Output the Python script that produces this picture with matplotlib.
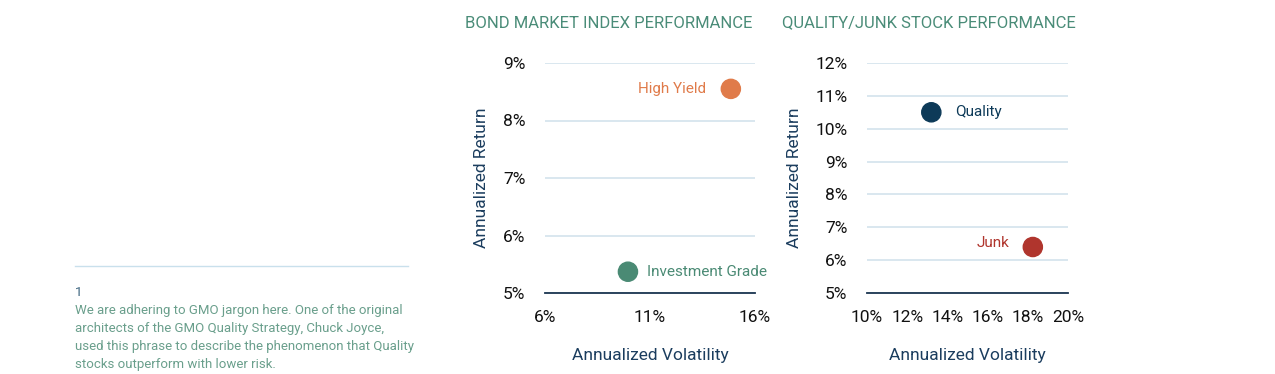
import matplotlib.pyplot as plt
from matplotlib.ticker import FuncFormatter

# bond market index performance
bond_names = ["High Yield", "Investment Grade"]
bond_vol = [14.85, 9.95]
bond_ret = [8.55, 5.37]
bond_colours = ["#e07b4a", "#4a8a74"]

# quality / junk stock performance
stock_names = ["Quality", "Junk"]
stock_vol = [13.2, 18.25]
stock_ret = [10.5, 6.4]
stock_colours = ["#0d3a58", "#b0352d"]

footnote = ("We are adhering to GMO jargon here. One of the original\n"
            "architects of the GMO Quality Strategy, Chuck Joyce,\n"
            "used this phrase to describe the phenomenon that Quality\n"
            "stocks outperform with lower risk.")

W, H = 1275, 374
TITLE_COL = "#4a8c78"
LABEL_COL = "#1b3d5e"
GRID_COL = "#d3e3ec"

plt.rcParams['font.family'] = ['Roboto', 'DejaVu Sans']

fig = plt.figure(figsize=(W / 100, H / 100), dpi=100)


def px_axes(left, top, right, bottom):
    return fig.add_axes([left / W, 1 - bottom / H, (right - left) / W, (bottom - top) / H])


def style_axes(ax, xticks, yticks):
    ax.set_xlim(xticks[0], xticks[-1])
    ax.set_ylim(yticks[0], yticks[-1])
    ax.set_xticks(xticks)
    ax.set_yticks(yticks)
    pct = FuncFormatter(lambda v, p: "%d%%" % v)
    ax.xaxis.set_major_formatter(pct)
    ax.yaxis.set_major_formatter(pct)
    for s in ["top", "right", "left"]:
        ax.spines[s].set_visible(False)
    ax.spines["bottom"].set_color("#1b3550")
    ax.spines["bottom"].set_linewidth(1.3)
    ax.tick_params(length=0, labelsize=12.5, colors="#111111")
    ax.tick_params(axis="x", pad=12)
    ax.tick_params(axis="y", pad=14)
    ax.grid(axis="y", color=GRID_COL, linewidth=1.2)
    ax.set_axisbelow(True)
    ax.set_xlabel("Annualized Volatility", fontsize=12.5, color=LABEL_COL, labelpad=17)
    ax.set_ylabel("Annualized Return", fontsize=12.5, color=LABEL_COL, labelpad=10)


# left chart
ax1 = px_axes(545, 63, 755, 293)
style_axes(ax1, [6, 11, 16], [5, 6, 7, 8, 9])
ax1.scatter(bond_vol, bond_ret, s=190, c=bond_colours, zorder=3, clip_on=False)
ax1.annotate(bond_names[0], (bond_vol[0], bond_ret[0]), xytext=(-18, 0),
             textcoords="offset points", ha="right", va="center",
             fontsize=11, color=bond_colours[0])
ax1.annotate(bond_names[1], (bond_vol[1], bond_ret[1]), xytext=(14, 0),
             textcoords="offset points", ha="left", va="center",
             fontsize=11, color=bond_colours[1])
fig.text(465 / W, 1 - 23 / H, "BOND MARKET INDEX PERFORMANCE", fontsize=12,
         color=TITLE_COL, ha="left", va="center")

# right chart
ax2 = px_axes(867, 63, 1068, 293)
style_axes(ax2, [10, 12, 14, 16, 18, 20], [5, 6, 7, 8, 9, 10, 11, 12])
ax2.scatter(stock_vol, stock_ret, s=190, c=stock_colours, zorder=3, clip_on=False)
ax2.annotate(stock_names[0], (stock_vol[0], stock_ret[0]), xytext=(17, 0),
             textcoords="offset points", ha="left", va="center",
             fontsize=11, color=stock_colours[0])
ax2.annotate(stock_names[1], (stock_vol[1], stock_ret[1]), xytext=(-17, 3),
             textcoords="offset points", ha="right", va="center",
             fontsize=11, color=stock_colours[1])
fig.text(782 / W, 1 - 23 / H, "QUALITY/JUNK STOCK PERFORMANCE", fontsize=12,
         color=TITLE_COL, ha="left", va="center")

# footnote
fig.add_artist(plt.Line2D([75 / W, 408 / W], [1 - 266 / H, 1 - 266 / H],
                          color="#c9e0ec", linewidth=1))
fig.text(75 / W, 1 - 293 / H, "1", fontsize=9.5, color="#3f6680", ha="left", va="center")
fig.text(75 / W, 1 - 304 / H, footnote, fontsize=9.5, color="#6a9f8c",
         ha="left", va="top", linespacing=1.5)

fig.savefig("out.png", dpi=100)
